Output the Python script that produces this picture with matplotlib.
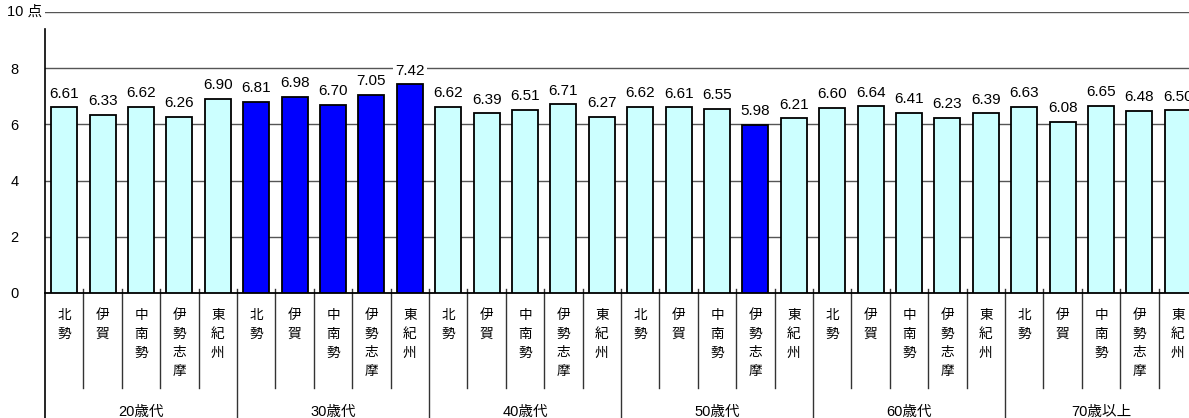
import numpy as np
import matplotlib
matplotlib.use('Agg')
import matplotlib.pyplot as plt
from matplotlib.lines import Line2D

plt.rcParams['font.family'] = ['Liberation Sans', 'Noto Sans CJK JP']

# データ
groups = ['20歳代', '30歳代', '40歳代', '50歳代', '60歳代', '70歳以上']
regions = ['北勢', '伊賀', '中南勢', '伊勢志摩', '東紀州']
scores_20 = [6.61, 6.33, 6.62, 6.26, 6.90]
scores_30 = [6.81, 6.98, 6.70, 7.05, 7.42]
scores_40 = [6.62, 6.39, 6.51, 6.71, 6.27]
scores_50 = [6.62, 6.61, 6.55, 5.98, 6.21]
scores_60 = [6.60, 6.64, 6.41, 6.23, 6.39]
scores_70 = [6.63, 6.08, 6.65, 6.48, 6.50]
# 強調表示するバー (年代, 地域)
highlight = [('30歳代', r) for r in regions] + [('50歳代', '伊勢志摩')]

all_scores = [scores_20, scores_30, scores_40, scores_50, scores_60, scores_70]
values = np.concatenate(all_scores)
labels = [(g, r) for g in groups for r in regions]
colors = ['#0000FF' if lab in highlight else '#CCFFFF' for lab in labels]
x = np.arange(len(values))

W, H = 1189, 418
fig = plt.figure(figsize=(W / 100, H / 100), dpi=100)
ax_l, ax_b, ax_w, ax_h = 45, 125, 1152, 281
ax = fig.add_axes([ax_l / W, ax_b / H, ax_w / W, ax_h / H])

ax.bar(x, values, width=0.68, color=colors, edgecolor='black', linewidth=1.3, zorder=3)
ax.set_xlim(-0.5, len(values) - 0.5)
ax.set_ylim(0, 10)

for yv in [2, 4, 6, 8, 10]:
    ax.axhline(yv, color='#555555', linewidth=1.0, zorder=1)

for xi, v in zip(x, values):
    ax.annotate('%.2f' % v, (xi, v), xytext=(0, 7), textcoords='offset points',
                ha='center', va='baseline', fontsize=11, zorder=4,
                bbox=dict(boxstyle='square,pad=0.15', fc='white', ec='none'))

ax.set_yticks([0, 2, 4, 6, 8])
ax.set_yticklabels(['0', '2', '4', '6', '8'], fontsize=10.5)
ax.tick_params(axis='y', length=0, pad=19)
ax.set_xticks([])
for s in ['top', 'right', 'left']:
    ax.spines[s].set_visible(False)
ax.spines['bottom'].set_linewidth(1.3)

ax.text(-0.1 / 38.4, 10, '10 点', transform=ax.get_yaxis_transform(),
        ha='right', va='center', fontsize=10.5,
        bbox=dict(boxstyle='square,pad=0.1', fc='white', ec='none'))

# 左軸線（図の下端まで）
ax.add_line(Line2D([0, 0], [-ax_b / ax_h, 9.4 / 10], transform=ax.transAxes,
                   color='black', linewidth=1.2, clip_on=False))

tr = ax.get_xaxis_transform()
short_bot = -95 / ax_h
long_bot = -ax_b / ax_h
top_tick = 4 / ax_h
for k in range(1, len(values)):
    bot = long_bot if k % len(regions) == 0 else short_bot
    ax.add_line(Line2D([k - 0.5, k - 0.5], [top_tick, bot], transform=tr,
                       color='#333333', linewidth=1.0, clip_on=False))

for xi, (g, r) in zip(x, labels):
    ax.annotate('\n'.join(r), (xi, 0), xycoords=tr, xytext=(0, -10.5),
                textcoords='offset points', ha='center', va='top',
                fontsize=9.8, linespacing=1.45)

for gi, g in enumerate(groups):
    cx = gi * len(regions) + (len(regions) - 1) / 2
    ax.text(cx, -119 / ax_h, g, transform=tr, ha='center', va='center', fontsize=10.5)

fig.savefig('out.png', dpi=100, facecolor='white')
